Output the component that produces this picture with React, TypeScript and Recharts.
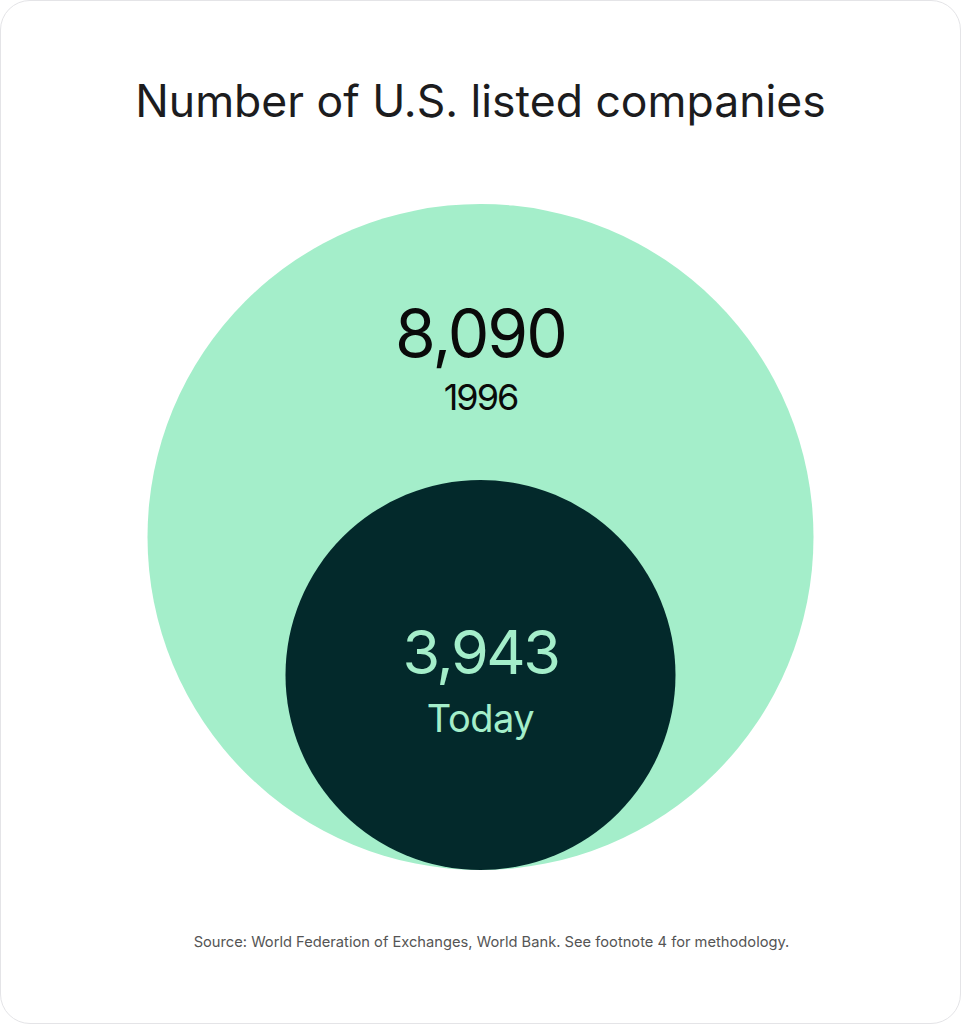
import React from 'react';
import { ScatterChart, Scatter, XAxis, YAxis, ZAxis } from 'recharts';

const periods = ['1996', 'Today'];
const listedCompanies = [8090, 3943];

const W = 961;
const H = 1024;
const FONT = 'Inter, "Noto Sans", sans-serif';

const rows = periods.map((period, i) => ({ x: 0, y: 0, z: listedCompanies[i], period }));

// both bubbles sit on the same baseline; the bigger one keeps its label above the small one
const Bubble = (props: any) => {
  const { cx, cy, width, payload, index } = props;
  const r = width / 2;
  const c = cy - r;
  const big = index === 0;
  const fill = big ? '#a4eeca' : '#03292b';
  const ink = big ? '#0a0a0a' : '#a4eeca';
  const valueY = big ? c - r * 0.54 : c - 1;
  const periodY = big ? valueY + 53 : valueY + 58;
  return (
    <g>
      <circle cx={cx} cy={c} r={r} fill={fill} />
      <text x={cx} y={valueY} textAnchor="middle" fill={ink} fontFamily={FONT} fontSize={big ? 66 : 61} letterSpacing={big ? -2 : -2.5}>
        {payload.z.toLocaleString('en-US')}
      </text>
      <text x={cx} y={periodY} textAnchor="middle" fill={ink} fontFamily={FONT} fontSize={big ? 36 : 38} letterSpacing={big ? -2 : -0.5}>
        {payload.period}
      </text>
    </g>
  );
};

export default function App() {
  return (
    <div style={{ position: 'absolute', left: 0, top: 0, width: W, height: H, background: '#fff' }}>
      <div
        style={{
          position: 'absolute', left: 0, top: 0, width: W - 2, height: H - 2,
          border: '1px solid #e4e4e7', borderRadius: 30,
        }}
      />
      <ScatterChart width={W} height={H} margin={{ top: 0, right: 0, bottom: 154, left: 0 }}>
        <XAxis type="number" dataKey="x" domain={[-1, 1]} hide />
        <YAxis type="number" dataKey="y" domain={[0, 1]} hide />
        <ZAxis
          type="number"
          dataKey="z"
          domain={[Math.min(...listedCompanies), Math.max(...listedCompanies)]}
          range={[Math.PI * 195 * 195, Math.PI * 333 * 333]}
        />
        <Scatter data={rows} shape={<Bubble />} isAnimationActive={false} />
      </ScatterChart>
      <svg width={W} height={H} style={{ position: 'absolute', left: 0, top: 0, pointerEvents: 'none' }}>
        <text x={480.5} y={117} textAnchor="middle" fill="#1c1c1e" fontFamily={FONT} fontSize={44.5}>
          Number of U.S. listed companies
        </text>
        <text x={491.5} y={947} textAnchor="middle" fill="#555" fontFamily={FONT} fontSize={14.7}>
          Source: World Federation of Exchanges, World Bank. See footnote 4 for methodology.
        </text>
      </svg>
    </div>
  );
}
